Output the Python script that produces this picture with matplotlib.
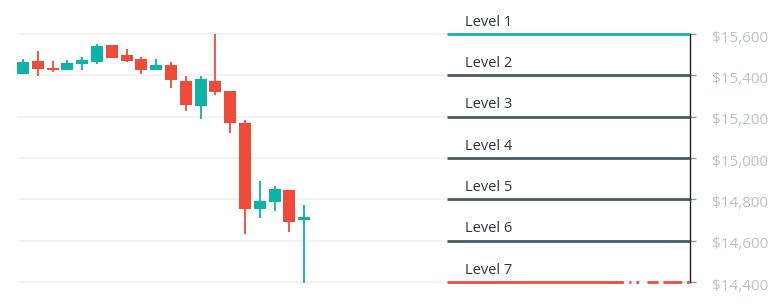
#!/usr/bin/env python3
# coding: utf-8

import numpy as np
import matplotlib
matplotlib.use('Agg')
import matplotlib.pyplot as plt
import matplotlib.transforms as mtransforms

plt.rcParams['font.family'] = ['Open Sans', 'DejaVu Sans']
plt.rcParams['lines.scale_dashes'] = False

# candles
opens  = [15406, 15469, 15436, 15427, 15456, 15466, 15547, 15497, 15480, 15427,
          15450, 15374, 15252, 15374, 15324, 15169, 14755, 14789, 14844, 14700]
closes = [15466, 15432, 15428, 15460, 15474, 15542, 15485, 15471, 15427, 15451,
          15376, 15256, 15381, 15321, 15171, 14755, 14792, 14850, 14690, 14714]
highs  = [15479, 15519, 15469, 15474, 15489, 15552, 15547, 15527, 15489, 15480,
          15463, 15398, 15398, 15600, 15324, 15184, 14889, 14864, 14844, 14773]
lows   = [15406, 15397, 15418, 15427, 15427, 15456, 15485, 15465, 15408, 15427,
          15337, 15227, 15187, 15306, 15122, 14631, 14711, 14745, 14640, 14394]

level_names = ['Level 1', 'Level 2', 'Level 3', 'Level 4', 'Level 5', 'Level 6', 'Level 7']
level_prices = [15600, 15400, 15200, 15000, 14800, 14600, 14400]
yticks = [14400, 14600, 14800, 15000, 15200, 15400, 15600]

UP = '#0cb3a6'
DOWN = '#f04b38'
SLATE = '#4b5b66'

fig = plt.figure(figsize=(7.82, 3.06), dpi=100)
ax = fig.add_axes([17 / 782, 0, 673 / 782, 1])

step = 14.8
ax.set_xlim(-6 / step, 667 / step)
ppx = 1200 / 248.0
ax.set_ylim(14400 - 24 * ppx, 15600 + 34 * ppx)

for y in yticks:
    ax.axhline(y, color='#f2f2f2', lw=1.5, zorder=0)

x = np.arange(len(opens))
for i in x:
    o, c, h, l = opens[i], closes[i], highs[i], lows[i]
    col = UP if c >= o else DOWN
    ax.vlines(i, l, h, color=col, lw=1.3, zorder=2)
    ax.bar(i, abs(c - o), bottom=min(o, c), width=0.81, color=col, zorder=3)

# levels
x0 = 424 / step
x1 = 667 / step
for name, p in zip(level_names, level_prices):
    if name == 'Level 1':
        ax.plot([x0, x1], [p, p], color='#16b4ad', lw=2, zorder=4, solid_capstyle='butt')
    elif name == 'Level 7':
        ax.plot([x0, x1], [p, p], color=DOWN, lw=2, zorder=4,
                dashes=[127, 4, 1.5, 3.5, 2, 6, 8, 3.5, 13.5, 3.5, 2, 10])
    else:
        ax.plot([x0, x1], [p, p], color=SLATE, lw=2, zorder=4, solid_capstyle='butt')
    ax.annotate(name, (x0 + 18 / step, p), xytext=(0, 6), textcoords='offset points',
                fontsize=10.5, color='#2b3740', ha='left', va='baseline')

for s in ['top', 'left', 'bottom']:
    ax.spines[s].set_visible(False)
ax.spines['right'].set_bounds(14400, 15600)
ax.spines['right'].set_color('#222222')
ax.spines['right'].set_linewidth(1)

ax.yaxis.tick_right()
ax.set_yticks(yticks)
ax.set_yticklabels(['${:,}'.format(v) for v in yticks])
ax.tick_params(axis='y', length=4.5, width=1, color='#8a969e', pad=11.5,
               labelsize=11, labelcolor='#b7c3ca')
ax.set_xticks([])

# labels sit a couple of pixels below their tick
off = mtransforms.ScaledTranslation(0, -0.02, fig.dpi_scale_trans)
for lab in ax.get_yticklabels():
    lab.set_transform(lab.get_transform() + off)

fig.savefig('out.png', dpi=100)
